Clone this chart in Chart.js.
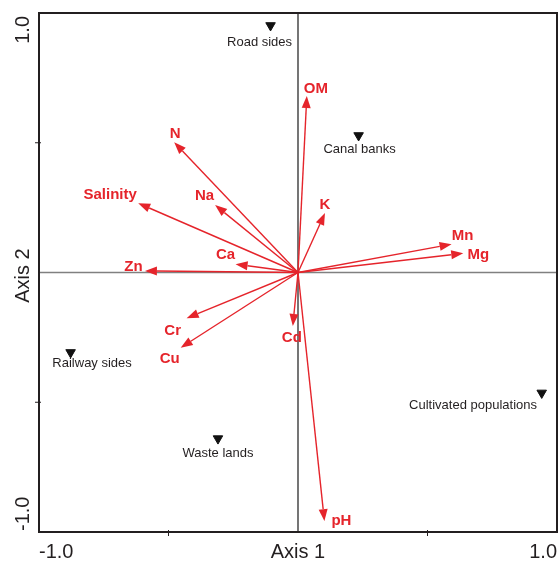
<!DOCTYPE html>
<html><head><meta charset="utf-8">
<script src="https://cdn.jsdelivr.net/npm/chart.js@4"></script>
<style>html,body{margin:0;padding:0;background:#fff;overflow:hidden}canvas{display:block}</style>
</head><body><canvas id="c" width="560" height="561" style="width:560px;height:561px"></canvas>
<script>
// ---- data ----
const variables = ['OM','N','Salinity','Na','K','Ca','Zn','Mn','Mg','Cr','Cu','Cd','pH'];
const varAxis1 = [0.034,-0.478,-0.617,-0.320,0.104,-0.241,-0.591,0.593,0.638,-0.430,-0.453,-0.020,0.102];
const varAxis2 = [0.680,0.502,0.267,0.260,0.229,0.032,0.006,0.109,0.074,-0.176,-0.290,-0.206,-0.958];
const sites = ['Road sides','Canal banks','Railway sides','Waste lands','Cultivated populations'];
const siteAxis1 = [-0.106,0.234,-0.878,-0.309,0.941];
const siteAxis2 = [0.952,0.528,-0.308,-0.640,-0.464];
const xTickValues = [-1, 1];
const xTickLabels = ['-1.0','1.0'];
const yTickValues = [-1, 1];
const yTickLabels = ['-1.0','1.0'];
const minorTicks = [-0.5, 0.5];
const axisTitles = ['Axis 1','Axis 2'];

// ---- label placement (pixels, relative to mark) ----
const varLabelOffset = [[9,-8.5],[1,-10],[-28,-10],[-10.5,-10],[0,-9],[-10,-11],[-11.5,-5.5],[11,-10],[15,0],[-14,11],[-11,10],[-1,10.5],[17,-1.5]];
const siteLabelOffset = [[-11,20.5],[1,17.5],[21.5,14.5],[0,18],[-68.7,16]];

const RED = '#e5242b';
const DARK = '#231f20';
const FONT = '"Liberation Sans", Arial, Helvetica, sans-serif';

const biplot = {
  id: 'biplot',
  beforeDatasetsDraw(chart) {
    const {ctx, chartArea: a, scales: {x, y}} = chart;
    const x0 = x.getPixelForValue(0), y0 = y.getPixelForValue(0);
    ctx.save();
    ctx.strokeStyle = '#808080'; ctx.lineWidth = 1.5;
    ctx.beginPath(); ctx.moveTo(a.left, y0); ctx.lineTo(a.right, y0); ctx.stroke();
    ctx.strokeStyle = '#1a1a1a'; ctx.lineWidth = 1.2;
    ctx.beginPath(); ctx.moveTo(x0, a.top); ctx.lineTo(x0, a.bottom); ctx.stroke();
    ctx.strokeStyle = RED; ctx.fillStyle = RED; ctx.lineWidth = 1.4;
    variables.forEach((v, i) => {
      const px = x.getPixelForValue(varAxis1[i]), py = y.getPixelForValue(varAxis2[i]);
      const ang = Math.atan2(py - y0, px - x0);
      const L = 12, W = 4.5;
      const bx = px - L * Math.cos(ang), by = py - L * Math.sin(ang);
      ctx.beginPath(); ctx.moveTo(x0, y0); ctx.lineTo(bx, by); ctx.stroke();
      ctx.beginPath(); ctx.moveTo(px, py);
      ctx.lineTo(bx + W * Math.sin(ang), by - W * Math.cos(ang));
      ctx.lineTo(bx - W * Math.sin(ang), by + W * Math.cos(ang));
      ctx.closePath(); ctx.fill();
    });
    ctx.restore();
  },
  afterDatasetsDraw(chart) {
    const {ctx, chartArea: a, scales: {x, y}} = chart;
    ctx.save();
    // variable labels
    ctx.fillStyle = RED; ctx.font = 'bold 15px ' + FONT;
    ctx.textAlign = 'center'; ctx.textBaseline = 'alphabetic';
    variables.forEach((v, i) => {
      const px = x.getPixelForValue(varAxis1[i]), py = y.getPixelForValue(varAxis2[i]);
      ctx.fillText(v, px + varLabelOffset[i][0], py + varLabelOffset[i][1] + 5.4);
    });
    // site labels
    ctx.fillStyle = DARK; ctx.font = '13px ' + FONT;
    sites.forEach((s, i) => {
      const px = x.getPixelForValue(siteAxis1[i]), py = y.getPixelForValue(siteAxis2[i]);
      ctx.fillText(s, px + siteLabelOffset[i][0], py + siteLabelOffset[i][1]);
    });
    // frame
    ctx.strokeStyle = DARK; ctx.lineWidth = 2;
    ctx.strokeRect(a.left, a.top, a.right - a.left, a.bottom - a.top);
    // minor ticks
    ctx.lineWidth = 1;
    minorTicks.forEach(t => {
      const px = x.getPixelForValue(t);
      ctx.beginPath(); ctx.moveTo(px, a.bottom - 2); ctx.lineTo(px, a.bottom + 4); ctx.stroke();
      const py = y.getPixelForValue(t);
      ctx.beginPath(); ctx.moveTo(a.left - 4, py); ctx.lineTo(a.left + 2, py); ctx.stroke();
    });
    // tick labels
    ctx.fillStyle = DARK; ctx.font = '20px ' + FONT; ctx.textBaseline = 'alphabetic';
    xTickValues.forEach((t, i) => {
      ctx.textAlign = t < 0 ? 'left' : 'right';
      ctx.fillText(xTickLabels[i], x.getPixelForValue(t), 558);
    });
    ctx.textAlign = 'center';
    ctx.fillText(axisTitles[0], x.getPixelForValue(0), 558);
    yTickValues.forEach((t, i) => {
      ctx.save();
      ctx.translate(28.5, y.getPixelForValue(t) + (t < 0 ? -1 : 3));
      ctx.rotate(-Math.PI / 2);
      ctx.textAlign = t < 0 ? 'left' : 'right';
      ctx.fillText(yTickLabels[i], 0, 0);
      ctx.restore();
    });
    ctx.save();
    ctx.translate(28.5, y.getPixelForValue(0) + 3);
    ctx.rotate(-Math.PI / 2);
    ctx.textAlign = 'center';
    ctx.fillText(axisTitles[1], 0, 0);
    ctx.restore();
    ctx.restore();
  }
};

new Chart(document.getElementById('c'), {
  type: 'scatter',
  data: {
    datasets: [
      { label: 'Variables', data: variables.map((v, i) => ({x: varAxis1[i], y: varAxis2[i]})), pointRadius: 0, showLine: false },
      { label: 'Sites', data: sites.map((s, i) => ({x: siteAxis1[i], y: siteAxis2[i]})),
        pointStyle: 'triangle', rotation: 180, pointRadius: 5.5, pointBackgroundColor: '#111', pointBorderColor: '#111', pointBorderWidth: 1 }
    ]
  },
  options: {
    responsive: false, animation: false, events: [], devicePixelRatio: 1,
    layout: { autoPadding: false, padding: { left: 39, right: 3, top: 13, bottom: 29 } },
    plugins: { legend: { display: false }, tooltip: { enabled: false } },
    scales: {
      x: { type: 'linear', min: -1, max: 1, display: false },
      y: { type: 'linear', min: -1, max: 1, display: false }
    }
  },
  plugins: [biplot]
});
</script>
</body></html>
